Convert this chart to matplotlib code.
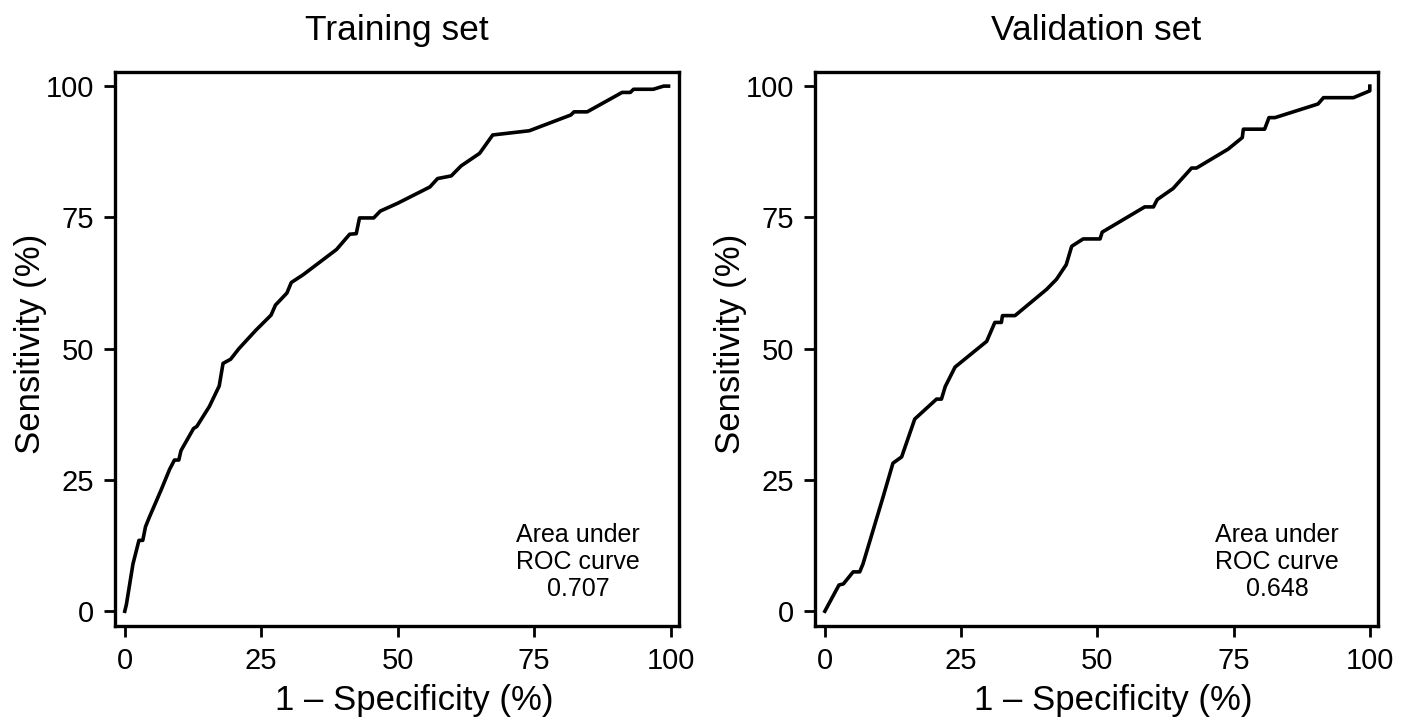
import matplotlib
matplotlib.use('Agg')
import matplotlib.pyplot as plt

plt.rcParams['font.family'] = ['Liberation Sans', 'DejaVu Sans']

# ROC curve points (1 - specificity %, sensitivity %)
train_fpr = [0, 0.3, 1.5, 2.6, 3.3, 3.8, 4.5, 6.7, 8.2, 9.1, 9.9, 10.3, 12.6, 13.2,
             15.5, 17.3, 18.0, 19.4, 20.9, 24.0, 26.8, 27.6, 29.7, 30.5, 32.7, 38.8,
             41.2, 42.4, 43.0, 45.6, 46.8, 50.0, 55.9, 57.3, 59.8, 61.6, 65.0, 67.4,
             74.1, 81.7, 82.3, 84.7, 91.1, 92.6, 93.2, 96.8, 98.7, 99.6]
train_tpr = [0, 1.3, 9.0, 13.5, 13.5, 16.1, 17.9, 23.2, 27.0, 28.8, 28.8, 30.6, 34.8, 35.2,
             39.0, 42.9, 47.2, 48.0, 50.0, 53.5, 56.4, 58.3, 60.6, 62.6, 64.1, 68.9,
             71.8, 71.9, 74.9, 74.9, 76.2, 77.7, 80.8, 82.4, 82.9, 84.8, 87.2, 90.7,
             91.5, 94.5, 95.1, 95.1, 98.8, 98.8, 99.4, 99.4, 100, 100]

valid_fpr = [0, 2.6, 3.4, 5.2, 6.4, 7.0, 10.7, 12.5, 14.1, 16.5, 20.5, 21.4, 22.1, 23.9,
             29.7, 31.2, 32.4, 32.6, 34.9, 40.7, 42.5, 44.3, 45.3, 47.4, 50.5, 50.9,
             58.7, 60.3, 61.0, 63.9, 67.3, 68.2, 74.0, 76.6, 76.8, 80.7, 81.5, 82.6,
             90.5, 91.5, 97.0, 100, 100]
valid_tpr = [0, 5.0, 5.2, 7.5, 7.5, 9.0, 21.8, 28.2, 29.4, 36.6, 40.4, 40.4, 42.8, 46.5,
             51.4, 55.0, 55.0, 56.3, 56.3, 61.3, 63.2, 66.0, 69.5, 70.9, 70.9, 72.2,
             77.0, 77.0, 78.4, 80.5, 84.4, 84.4, 88.0, 90.2, 91.8, 91.8, 94.0, 94.0,
             96.6, 97.8, 97.8, 99.1, 100]

titles = ['Training set', 'Validation set']
auc_values = ['0.707', '0.648']
ticks = [0, 25, 50, 75, 100]

fig = plt.figure(figsize=(14.12, 7.23), dpi=100)
ax1 = fig.add_axes([0.0814, 0.1342, 0.3994, 0.7663])
ax2 = fig.add_axes([0.5772, 0.1342, 0.3987, 0.7663])

curves = [(train_fpr, train_tpr), (valid_fpr, valid_tpr)]

for ax, (fx, fy), title, auc in zip([ax1, ax2], curves, titles, auc_values):
    ax.plot(fx, fy, color='black', lw=2.6, solid_joinstyle='round')
    ax.set_xlim(-1.8, 101.5)
    ax.set_ylim(-2.8, 102.7)
    ax.set_xticks(ticks)
    ax.set_yticks(ticks)
    ax.tick_params(direction='out', length=8, width=2.0, labelsize=21, pad=7,
                   top=False, right=False)
    for s in ax.spines.values():
        s.set_linewidth(2.4)
    ax.set_title(title, fontsize=25.5, pad=23)
    ax.set_xlabel('1 \u2013 Specificity (%)', fontsize=25)
    ax.set_ylabel('Sensitivity (%)', fontsize=25)
    ax.xaxis.set_label_coords(0.53, -0.104)
    ax.yaxis.set_label_coords(-0.12, 0.51)
    ax.text(83, 9.4, 'Area under\nROC curve\n' + auc, ha='center', va='center',
            multialignment='center', fontsize=18, linespacing=1.15)

fig.savefig('out.png', dpi=100)
